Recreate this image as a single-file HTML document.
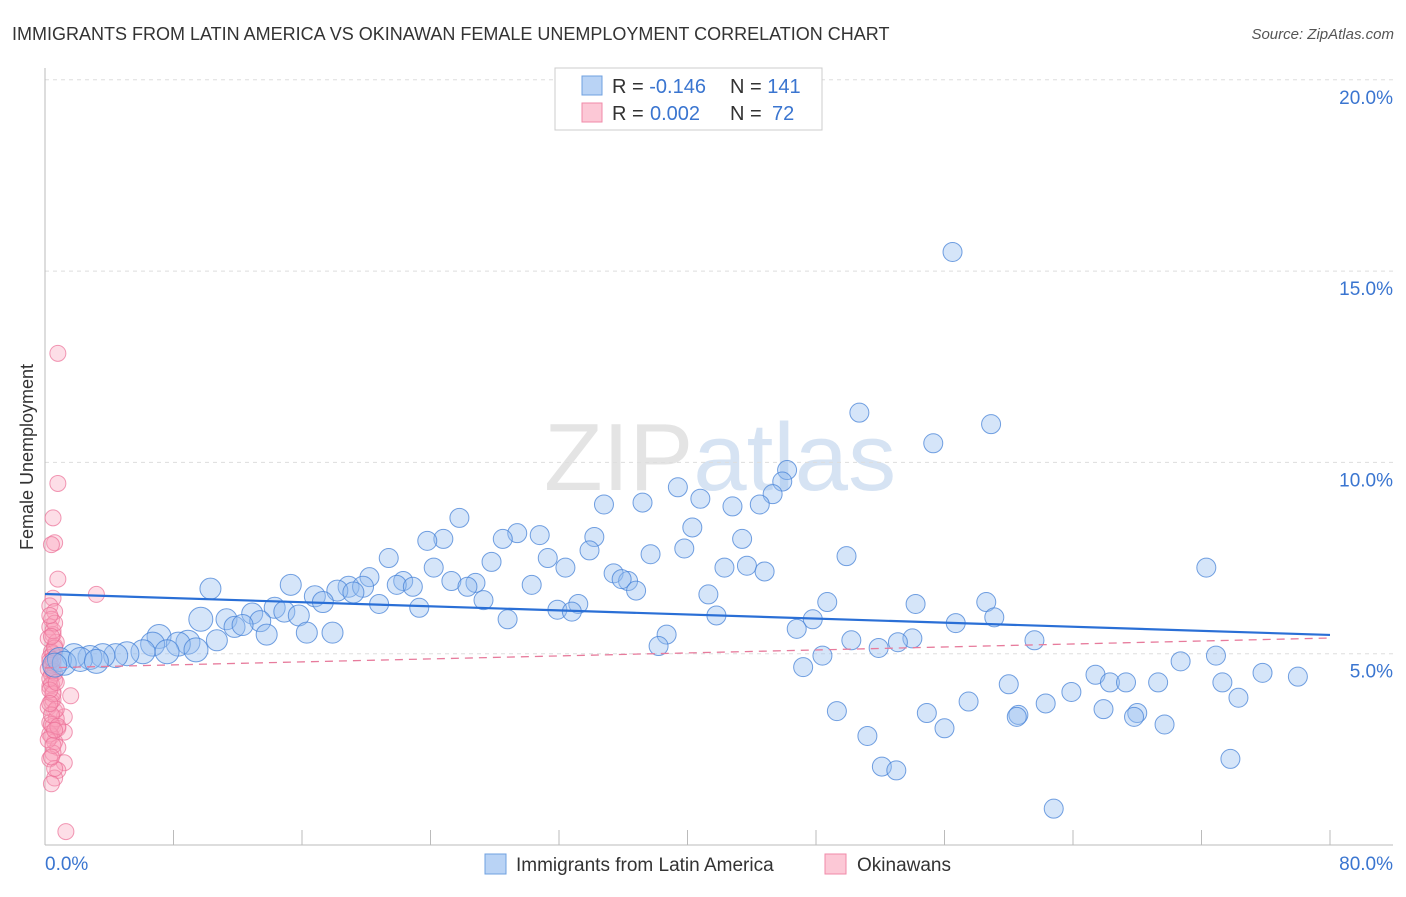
<!DOCTYPE html>
<html><head><meta charset="utf-8"><style>
body{margin:0;background:#fff;font-family:"Liberation Sans",sans-serif;}
svg text{font-family:"Liberation Sans",sans-serif;}
</style></head><body>
<svg id="chart" width="1406" height="892">
<text x="12" y="40" font-size="18" fill="#333">IMMIGRANTS FROM LATIN AMERICA VS OKINAWAN FEMALE UNEMPLOYMENT CORRELATION CHART</text>
<text x="1394" y="39" font-size="15" fill="#555" font-style="italic" text-anchor="end">Source: ZipAtlas.com</text>
<text x="720" y="490" font-size="96" fill="#e4e4e4" text-anchor="middle" font-family="Liberation Serif">ZIP<tspan fill="#d6e3f3" font-family="Liberation Sans">atlas</tspan></text>
<text transform="translate(33,457) rotate(-90)" font-size="18" fill="#333" text-anchor="middle">Female Unemployment</text>
<g id="grid"></g><g id="pink"></g><g id="blue"></g><g id="lines"></g>
<rect x="555" y="68" width="267" height="62" fill="#fff" stroke="#ccc"/>
<rect x="582" y="76" width="20" height="19" fill="#b9d3f5" stroke="#6fa0e0"/>
<rect x="582" y="103" width="20" height="19" fill="#fcc8d6" stroke="#f08aa8"/>
<text x="612" y="93" font-size="20" fill="#333">R = <tspan fill="#3a75d0">-0.146</tspan><tspan x="730">N = </tspan><tspan fill="#3a75d0">141</tspan></text>
<text x="612" y="120" font-size="20" fill="#333">R = <tspan fill="#3a75d0" x="650">0.002</tspan><tspan x="730">N = </tspan><tspan fill="#3a75d0" x="772">72</tspan></text>
<rect x="485" y="854" width="21" height="20" fill="#b9d3f5" stroke="#6fa0e0"/>
<text x="516" y="871" font-size="19" fill="#333">Immigrants from Latin America</text>
<rect x="825" y="854" width="21" height="20" fill="#fcc8d6" stroke="#f08aa8"/>
<text x="857" y="871" font-size="19" fill="#333">Okinawans</text>
<text x="45" y="870" font-size="19" fill="#3a75d0">0.0%</text>
<text x="1393" y="870" font-size="19" fill="#3a75d0" text-anchor="end">80.0%</text>
</svg>
<script>
const yTicks=[5,10,15,20];
const xTicks=[0,8,16,24,32,40,48,56,64,72,80];
const blueX=[56.5,50.7,58.9,55.3,46.2,45.9,39.4,45.3,40.8,34.8,37.2,44.5,42.8,25.8,40.3,29.4,30.8,28.5,24.8,23.8,34.2,43.4,39.8,33.9,21.4,31.3,37.7,49.9,27.8,32.4,24.2,43.7,42.3,44.8,72.3,35.4,36.3,35.9,20.2,22.3,21.9,25.3,26.8,30.3,15.3,10.3,18.9,19.8,18.2,22.9,26.3,19.2,36.8,41.3,16.8,27.3,17.3,20.8,48.7,58.6,54.2,33.2,14.3,23.3,31.9,32.8,12.9,14.9,15.8,9.7,11.3,41.8,47.8,59.1,28.8,13.4,56.7,11.8,46.8,12.3,17.9,16.3,13.8,38.7,7.1,61.6,54.0,50.2,10.7,38.2,51.9,53.1,8.9,6.7,8.3,9.4,7.6,48.4,72.9,6.1,5.1,4.4,3.6,2.8,1.8,0.9,47.2,70.7,75.8,78.0,65.4,66.3,67.3,69.3,73.3,60.0,63.9,74.3,57.5,62.3,49.3,54.9,65.9,68.0,60.6,60.5,67.8,69.7,56.0,51.2,73.8,52.1,53.0,62.8,1.2,2.2,3.2,0.6];
const blueY=[15.5,11.3,11.0,10.5,9.8,9.5,9.35,9.17,9.05,8.9,8.95,8.9,8.85,8.55,8.3,8.15,8.1,8.0,8.0,7.95,8.05,8.0,7.75,7.7,7.5,7.5,7.6,7.55,7.4,7.25,7.25,7.3,7.25,7.15,7.25,7.1,6.9,6.95,7.0,6.9,6.8,6.9,6.85,6.8,6.8,6.7,6.75,6.75,6.65,6.75,6.75,6.6,6.65,6.55,6.5,6.4,6.35,6.3,6.35,6.35,6.3,6.3,6.2,6.2,6.15,6.1,6.05,6.1,6.0,5.9,5.9,6.0,5.9,5.95,5.9,5.85,5.8,5.7,5.65,5.75,5.55,5.55,5.5,5.5,5.45,5.35,5.4,5.35,5.35,5.2,5.15,5.3,5.3,5.25,5.25,5.1,5.05,4.95,4.95,5.05,5.0,4.95,4.95,4.9,4.95,4.85,4.65,4.8,4.5,4.4,4.45,4.25,4.25,4.25,4.25,4.2,4.0,3.85,3.75,3.7,3.5,3.45,3.55,3.45,3.4,3.35,3.35,3.15,3.05,2.85,2.25,2.05,1.95,0.95,4.75,4.85,4.8,4.7];
const pinkX=[0.8,0.8,0.5,0.6,0.4,0.8,3.2,0.5,0.3,0.6,0.4,0.3,0.5,0.2,0.6,0.4,0.3,0.5,0.2,0.4,0.6,0.3,0.5,1.6,0.4,0.6,1.2,0.3,0.5,0.8,1.2,0.4,0.6,0.8,0.5,0.3,1.2,0.8,0.6,0.4,0.7,0.5,0.3,0.6,0.4,0.5,0.2,0.7,0.3,0.5,0.6,0.4,0.3,0.5,0.7,0.4,0.2,0.6,0.5,0.3,0.4,0.8,0.5,0.6,0.3,0.4,0.5,0.7,0.3,0.6,0.4,1.3];
const pinkY=[12.85,9.45,8.55,7.9,7.85,6.95,6.55,6.45,6.25,6.1,5.9,5.7,5.5,5.4,5.2,5.05,4.9,4.75,4.6,4.45,4.3,4.15,4.0,3.9,3.75,3.5,3.35,3.2,3.1,3.05,2.95,2.85,2.7,2.55,2.4,2.25,2.15,1.95,1.75,1.6,5.3,5.0,4.8,4.5,4.2,3.8,3.6,3.3,2.9,5.6,5.15,4.7,4.35,3.95,3.55,3.15,2.75,5.8,4.55,4.05,3.4,3.1,2.6,2.0,6.0,5.45,4.85,4.25,3.7,3.0,2.3,0.35];
const X0=45,X1=1330,YB=845,YPER=38.26;
const sx=v=>X0+v/80*(X1-X0), sy=v=>YB-v*YPER;
const NS='http://www.w3.org/2000/svg';
function mk(tag,attrs,parent){const e=document.createElementNS(NS,tag);for(const k in attrs)e.setAttribute(k,attrs[k]);document.getElementById(parent).appendChild(e);return e;}
yTicks.forEach(t=>{
 const l=mk('line',{x1:X0,x2:1393,y1:sy(t),y2:sy(t),stroke:'#ddd','stroke-dasharray':'4,4'},'grid');
 
 
 const tx=mk('text',{x:1393,y:sy(t)+24,'font-size':19,fill:'#3a75d0','text-anchor':'end'},'grid');
 tx.textContent=t.toFixed(1)+'%';
 
 
});
xTicks.forEach(t=>{
 const l=mk('line',{x1:sx(t),x2:sx(t),y1:t===0?68:830,y2:YB,stroke:'#bbb'},'grid');
 
 
});
const ax=mk('line',{x1:X0,x2:1393,y1:YB,y2:YB,stroke:'#bbb'},'grid');


pinkX.forEach((v,i)=>{
 const c=mk('circle',{cx:sx(v),cy:sy(pinkY[i]),r:8,fill:'rgba(248,160,185,0.35)',stroke:'rgba(235,110,150,0.7)','stroke-width':1},'pink');
 
 
});
blueX.forEach((v,i)=>{
 const r=v<10?12:(v<20?10.5:9.5);
 const c=mk('circle',{cx:sx(v),cy:sy(blueY[i]),r:r,fill:'rgba(150,190,240,0.4)',stroke:'rgba(70,130,215,0.75)','stroke-width':1},'blue');
 
 
});
const bl=mk('line',{x1:sx(0),x2:sx(80),y1:sy(6.56),y2:sy(5.49),stroke:'#2a6fd6','stroke-width':2.2},'lines');


const pl=mk('line',{x1:sx(0),x2:sx(80),y1:sy(4.63),y2:sy(5.41),stroke:'#e77b9c','stroke-width':1.3,'stroke-dasharray':'8,6'},'lines');


</script>
</body></html>
